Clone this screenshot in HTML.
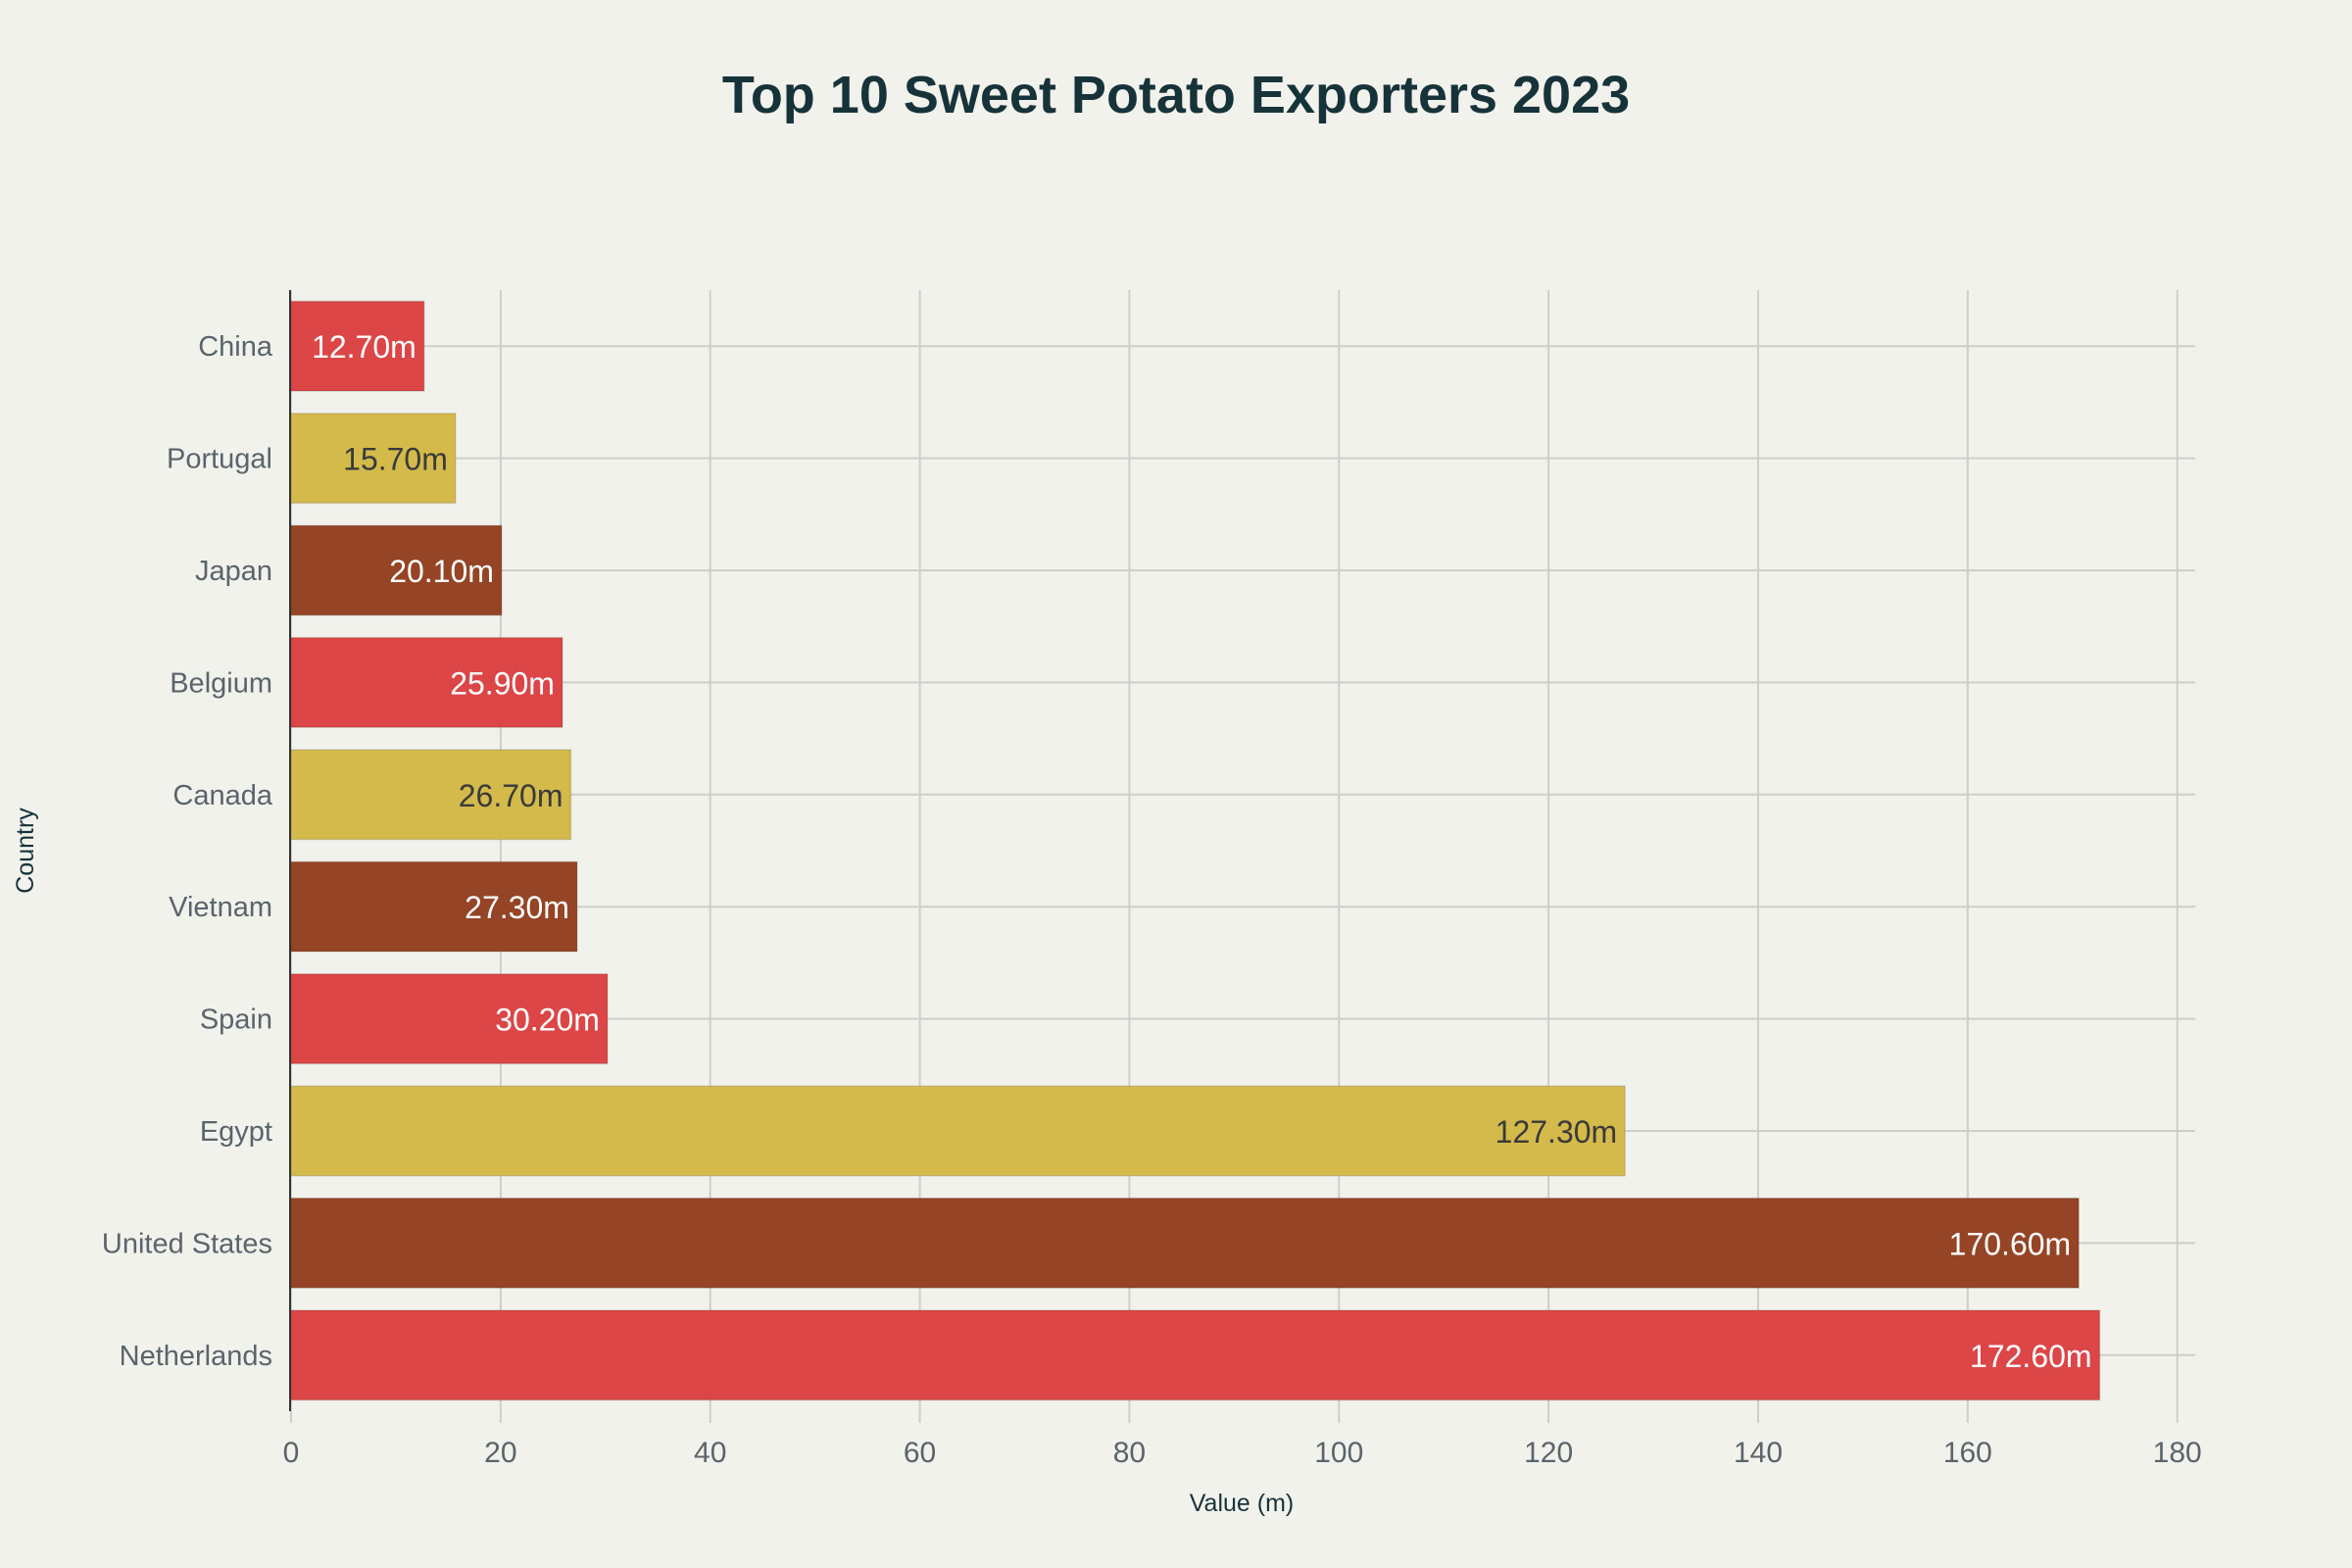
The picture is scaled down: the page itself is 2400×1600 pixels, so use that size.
<!DOCTYPE html>
<html><head><meta charset="utf-8"><style>
html,body{margin:0;padding:0;background:#F2F2EC;}
svg{display:block;font-family:"Liberation Sans",sans-serif;}
</style></head><body>
<svg id="chart" width="2400" height="1600" viewBox="0 0 2400 1600">
<rect width="2400" height="1600" fill="#F2F2EC"/>
<text x="1200" y="115" text-anchor="middle" font-size="54" font-weight="bold" fill="#17333A">Top 10 Sweet Potato Exporters 2023</text>
<g id="grid"></g><g id="bars"></g><g id="axes"></g>
<text x="1267" y="1542" text-anchor="middle" font-size="25" fill="#17333A">Value (m)</text>
<text transform="translate(34,868) rotate(-90)" text-anchor="middle" font-size="25" fill="#17333A">Country</text>
</svg>
<script>
const categories = ["China","Portugal","Japan","Belgium","Canada","Vietnam","Spain","Egypt","United States","Netherlands"];
const values = [12.7,15.7,20.1,25.9,26.7,27.3,30.2,127.3,170.6,172.6];
const xTicks = [0,20,40,60,80,100,120,140,160,180];
const palette = ["#DC4647","#D3BA4B","#954425"];
const textCol = ["#ffffff","#3a3a3a","#ffffff"];
const NS="http://www.w3.org/2000/svg";
const L=297,R=2240,T=296,B=1440,x0=297,unit=(2221.7-297)/180;
const xs=v=>x0+v*unit;
const step=(B-T)/categories.length;
const yc=i=>T+step*(i+0.5);
function mk(tag,attrs,parent){const e=document.createElementNS(NS,tag);for(const k in attrs)e.setAttribute(k,attrs[k]);parent.appendChild(e);return e;}
const grid=document.getElementById('grid'),bars=document.getElementById('bars'),axes=document.getElementById('axes');
xTicks.forEach(t=>{
  const l=mk('line',{x1:xs(t),x2:xs(t),y1:T,y2:B+12,stroke:'#CFCFCA','stroke-width':2},grid);
  
  
  const tx=mk('text',{x:xs(t),y:1492,'text-anchor':'middle','font-size':30,fill:'#5A646B'},axes);
  tx.textContent=t;
  
  
});
categories.forEach((c,i)=>{
  const y=yc(i);
  const g=mk('line',{x1:L,x2:R,y1:y,y2:y,stroke:'#CFCFCA','stroke-width':2},grid);
  
  
  const h=step*0.8;
  const r=mk('rect',{x:xs(0),y:y-h/2,width:xs(values[i])-xs(0),height:h,fill:palette[i%3],stroke:'rgba(0,0,0,0.12)','stroke-width':1.5},bars);
  
  
  const lb=mk('text',{x:xs(values[i])-8,y:y+12,'text-anchor':'end','font-size':32,fill:textCol[i%3]},bars);
  lb.textContent=values[i].toFixed(2)+'m';
  
  
  const yl=mk('text',{x:278,y:y+10,'text-anchor':'end','font-size':29,fill:'#5A646B'},axes);
  yl.textContent=c;
  
  
});
const ax=mk('line',{x1:296,x2:296,y1:T,y2:B,stroke:'#333','stroke-width':2},axes);


</script>
</body></html>
